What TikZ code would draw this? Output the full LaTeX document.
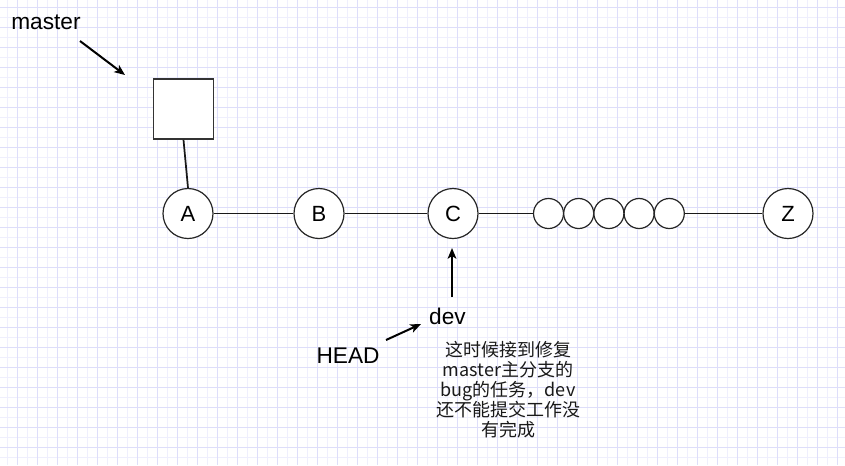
\documentclass[tikz,border=0pt]{standalone}
\usepackage{fontspec}
\setmainfont{Liberation Sans}
\newfontfamily\cjk{Noto Sans CJK SC}
\usetikzlibrary{arrows.meta}

\definecolor{gridminor}{HTML}{EFEFFD}
\definecolor{gridmajor}{HTML}{DEDEFA}
\definecolor{boxline}{HTML}{333333}

\begin{document}
\begin{tikzpicture}[
            x=0.75pt, y=-0.75pt,
            >={Stealth[length=8pt, width=6.5pt, inset=2pt]},
            commit/.style={circle, draw=black!85, line width=0.9pt, fill=white, minimum size=37.5pt, inner sep=0pt, font=\fontsize{16.5}{18}\selectfont},
            dot/.style={circle, draw=black!85, line width=0.9pt, fill=white, minimum size=22.5pt, inner sep=0pt},
            pointer/.style={rectangle, draw=boxline, line width=1.2pt, fill=white, minimum size=45pt, inner sep=0pt},
            label/.style={inner sep=0pt, font=\fontsize{17}{20}\selectfont},
            note/.style={inner sep=0pt, align=center, text=black!90, font=\cjk\fontsize{13.5}{15}\selectfont},
            link/.style={line width=1.3pt, black!90},
            arrow/.style={->, line width=1.5pt, black}
        ]
        \useasboundingbox (0,0) rectangle (845,465);
        \fill[white] (0,0) rectangle (845,465);
        % background grid
        \foreach \gx in {7,27,...,845} \draw[gridminor, line width=0.75pt] (\gx,0) -- (\gx,465);
        \foreach \gy in {17,37,...,465} \draw[gridminor, line width=0.75pt] (0,\gy) -- (845,\gy);
        \foreach \gx in {17,37,...,845} \draw[gridmajor, line width=0.75pt] (\gx,0) -- (\gx,465);
        \foreach \gy in {7,27,...,465} \draw[gridmajor, line width=0.75pt] (0,\gy) -- (845,\gy);

        \node[commit] (A) at (188,213.5) {A};
        \node[commit] (B) at (319,213.5) {B};
        \node[commit] (C) at (453,213.5) {C};
        \node[dot] (d1) at (548.5,213.5) {};
        \node[dot] (d2) at (578.7,213.5) {};
        \node[dot] (d3) at (608.9,213.5) {};
        \node[dot] (d4) at (639.1,213.5) {};
        \node[dot] (d5) at (669.3,213.5) {};
        \node[commit] (Z) at (788,213.5) {Z};
        \node[pointer] (mbox) at (183.5,109) {};

        \node[label] (master) at (46,22) {master};
        \node[label] (dev) at (447.5,316) {dev};
        \node[label] (head) at (348,356) {HEAD};
        \node[note] (task) at (508,390) {这时候接到修复\\master主分支的\\bug的任务，dev\\还不能提交工作没\\有完成};

        \coordinate (mtail) at (80,41);
        \coordinate (mtip) at (125,75);
        \coordinate (htail) at (386,340);
        \coordinate (htip) at (421,324);
        \coordinate (dtail) at (452,297);
        \coordinate (dtip) at (452,248);

        \draw[link] (mbox.south) -- (A.north);
        \draw[link] (A) -- (B);
        \draw[link] (B) -- (C);
        \draw[link] (C) -- (d1);
        \draw[link] (d5) -- (Z);

        \draw[arrow] (mtail) -- (mtip);
        \draw[arrow] (htail) -- (htip);
        \draw[arrow] (dtail) -- (dtip);
    \end{tikzpicture}
\end{document}
